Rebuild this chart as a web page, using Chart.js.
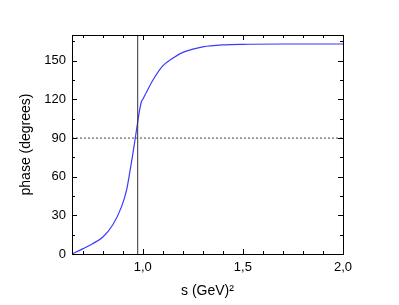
<!DOCTYPE html>
<html>
<head>
<meta charset="utf-8">
<script src="https://cdn.jsdelivr.net/npm/chart.js@4"></script>
<style>
  html, body { margin: 0; padding: 0; background: #fff; }
  canvas { display: block; }
</style>
</head>
<body>
<canvas id="phaseChart" width="399" height="305"></canvas>
<script>
// Phase vs s
const sValues = [0.647, 0.70, 0.75, 0.80, 0.85, 0.895, 0.92, 0.935, 0.95, 0.964, 0.977, 0.985, 0.993, 1.002, 1.02, 1.055, 1.10, 1.15, 1.20, 1.25, 1.30, 1.40, 1.50, 1.70, 2.00];
const phaseValues = [0, 4, 8, 13, 22.5, 37, 50, 63, 77, 91, 104.5, 112, 118, 120.5, 126, 136, 146, 152, 156.5, 159, 160.8, 162.3, 162.8, 163, 163];

const xMin = 0.647;
const xMax = 2.0;
const yMin = 0;
const yMax = 170;
const xTicks = [1.0, 1.5, 2.0];
const yTicks = [0, 30, 60, 90, 120, 150];
const xMinorStep = 0.1;
const yMinorStep = 15;

const thresholdS = 0.975;   // vertical line
const refPhase = 90;        // dotted horizontal line

const FONT = "'Liberation Sans', Arial, sans-serif";

// frame + inward ticks on all four sides
const framePlugin = {
    id: 'frame',
    afterDraw(chart) {
        const ctx = chart.ctx;
        const a = chart.chartArea;
        const xs = chart.scales.x;
        const ys = chart.scales.y;
        ctx.save();
        ctx.strokeStyle = '#000';
        ctx.lineWidth = 1;
        ctx.beginPath();
        // x ticks
        for (let v = Math.ceil(xMin / xMinorStep) * xMinorStep; v <= xMax + 1e-9; v += xMinorStep) {
            const major = xTicks.some(t => Math.abs(t - v) < 1e-6);
            const len = major ? 5 : 3;
            const px = Math.round(xs.getPixelForValue(v)) + 0.5;
            ctx.moveTo(px, a.bottom); ctx.lineTo(px, a.bottom - len);
            ctx.moveTo(px, a.top); ctx.lineTo(px, a.top + len);
        }
        // y ticks
        for (let v = yMin; v <= yMax + 1e-9; v += yMinorStep) {
            const major = yTicks.includes(v);
            const len = major ? 5 : 3;
            const py = Math.round(ys.getPixelForValue(v)) + 0.5;
            ctx.moveTo(a.left, py); ctx.lineTo(a.left + len, py);
            ctx.moveTo(a.right, py); ctx.lineTo(a.right - len, py);
        }
        ctx.stroke();
        ctx.strokeRect(Math.round(a.left) + 0.5, Math.round(a.top) + 0.5,
            Math.round(a.right - a.left), Math.round(a.bottom - a.top));
        ctx.restore();
    }
};

const ctx = document.getElementById('phaseChart').getContext('2d');
const chart = new Chart(ctx, {
    type: 'scatter',
    data: {
        datasets: [
            {
                label: 'threshold',
                data: [{ x: thresholdS, y: yMin }, { x: thresholdS, y: yMax }],
                showLine: true,
                borderColor: '#333',
                borderWidth: 1,
                pointRadius: 0
            },
            {
                label: 'ninety',
                data: [{ x: xMin, y: refPhase }, { x: xMax, y: refPhase }],
                showLine: true,
                borderColor: '#444',
                borderWidth: 1,
                borderDash: [2, 2],
                pointRadius: 0
            },
            {
                label: 'phase',
                data: sValues.map((s, i) => ({ x: s, y: phaseValues[i] })),
                showLine: true,
                borderColor: '#3a3aff',
                borderWidth: 1.2,
                pointRadius: 0,
                cubicInterpolationMode: 'monotone'
            }
        ]
    },
    options: {
        responsive: false,
        animation: false,
        events: [],
        layout: { padding: { left: 0, right: 56, top: 35, bottom: 0 } },
        plugins: {
            legend: { display: false },
            tooltip: { enabled: false }
        },
        scales: {
            x: {
                type: 'linear',
                min: xMin,
                max: xMax,
                grid: { display: false, drawTicks: false },
                border: { display: false },
                afterBuildTicks: scale => { scale.ticks = xTicks.map(v => ({ value: v })); },
                afterFit: scale => { scale.height = 51; },
                ticks: {
                    color: '#000',
                    padding: 6,
                    maxRotation: 0,
                    font: { family: FONT, size: 13 },
                    callback: v => v.toFixed(1).replace('.', ',')
                },
                title: {
                    display: true,
                    text: 's (GeV)²',
                    color: '#000',
                    font: { family: FONT, size: 14 },
                    padding: { top: 0, bottom: 5 }
                }
            },
            y: {
                min: yMin,
                max: yMax,
                grid: { display: false, drawTicks: false },
                border: { display: false },
                afterBuildTicks: scale => { scale.ticks = yTicks.map(v => ({ value: v })); },
                afterFit: scale => { scale.width = 72; },
                ticks: {
                    color: '#000',
                    padding: 6,
                    font: { family: FONT, size: 13 }
                },
                title: {
                    display: true,
                    text: 'phase (degrees)',
                    color: '#000',
                    font: { family: FONT, size: 14 },
                    padding: { top: 18, bottom: 0 }
                }
            }
        }
    },
    plugins: [framePlugin]
});
</script>
</body>
</html>
